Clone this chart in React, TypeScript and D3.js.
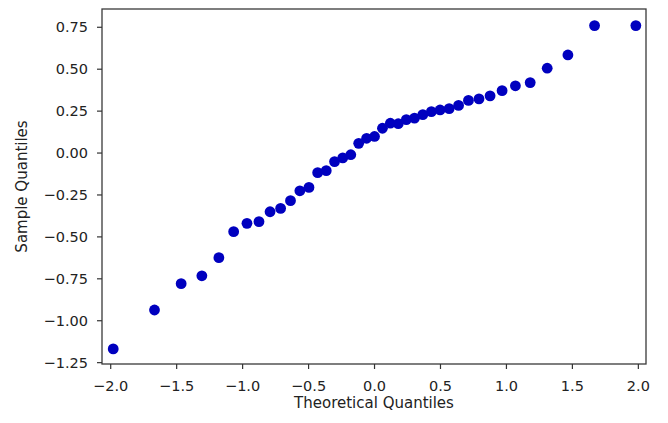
import React from "react";
import * as d3 from "d3";

const theoretical: number[] = [
  -1.981, -1.668, -1.466, -1.309, -1.18, -1.068, -0.967, -0.876, -0.792, -0.712,
  -0.637, -0.566, -0.497, -0.431, -0.366, -0.303, -0.241, -0.18, -0.12, -0.06,
  0.0, 0.06, 0.12, 0.18, 0.241, 0.303, 0.366, 0.431, 0.497, 0.566,
  0.637, 0.712, 0.792, 0.876, 0.967, 1.068, 1.18, 1.309, 1.466, 1.668, 1.981,
];
const sample: number[] = [
  -1.168, -0.936, -0.779, -0.732, -0.624, -0.469, -0.419, -0.409, -0.35, -0.33,
  -0.284, -0.225, -0.205, -0.117, -0.105, -0.051, -0.029, -0.01, 0.058, 0.088,
  0.099, 0.148, 0.178, 0.175, 0.199, 0.208, 0.229, 0.247, 0.257, 0.265,
  0.284, 0.314, 0.323, 0.341, 0.372, 0.401, 0.42, 0.506, 0.585, 0.76, 0.76,
];
const xTicks: number[] = [-2.0, -1.5, -1.0, -0.5, 0.0, 0.5, 1.0, 1.5, 2.0];
const yTicks: number[] = [-1.25, -1.0, -0.75, -0.5, -0.25, 0.0, 0.25, 0.5, 0.75];
const xLabel = "Theoretical Quantiles";
const yLabel = "Sample Quantiles";

const W = 668;
const H = 423;
const left = 102;
const right = 646;
const top = 9;
const bottom = 364;

const fmtMinus = (s: string) => s.replace("-", "\u2212");

export default function App() {
  const x = d3.scaleLinear().domain([-2.066, 2.058]).range([left, right]);
  const y = d3.scaleLinear().domain([-1.258, 0.859]).range([bottom, top]);
  const font = "'DejaVu Sans', sans-serif";
  const tickColor = "#333";
  return (
    <div style={{ position: "absolute", left: 0, top: 0 }}>
      <svg width={W} height={H} style={{ display: "block", background: "#fff" }}>
        <rect x={0} y={0} width={W} height={H} fill="#fff" />
        {theoretical.map((t, i) => (
          <circle key={i} cx={x(t)} cy={y(sample[i])} r={5.4} fill="#0000bf" />
        ))}
        <rect
          x={left}
          y={top}
          width={right - left}
          height={bottom - top}
          fill="none"
          stroke="#3a3a3a"
          strokeWidth={1.3}
        />
        {xTicks.map((t) => (
          <g key={"x" + t}>
            <line x1={x(t)} x2={x(t)} y1={bottom} y2={bottom + 5} stroke={tickColor} strokeWidth={1.2} />
            <text
              x={x(t)}
              y={bottom + 27}
              textAnchor="middle"
              fontFamily={font}
              fontSize={14.5}
              fill="#222"
            >
              {fmtMinus(d3.format(".1f")(t))}
            </text>
          </g>
        ))}
        {yTicks.map((t) => (
          <g key={"y" + t}>
            <line x1={left - 5} x2={left} y1={y(t)} y2={y(t)} stroke={tickColor} strokeWidth={1.2} />
            <text
              x={left - 14}
              y={y(t)}
              dy="0.36em"
              textAnchor="end"
              fontFamily={font}
              fontSize={14.5}
              fill="#222"
            >
              {fmtMinus(d3.format(".2f")(t))}
            </text>
          </g>
        ))}
        <text
          x={(left + right) / 2}
          y={408}
          textAnchor="middle"
          fontFamily={font}
          fontSize={15}
          fill="#222"
        >
          {xLabel}
        </text>
        <text
          transform={`translate(27, ${(top + bottom) / 2}) rotate(-90)`}
          textAnchor="middle"
          fontFamily={font}
          fontSize={15}
          fill="#222"
        >
          {yLabel}
        </text>
      </svg>
    </div>
  );
}
